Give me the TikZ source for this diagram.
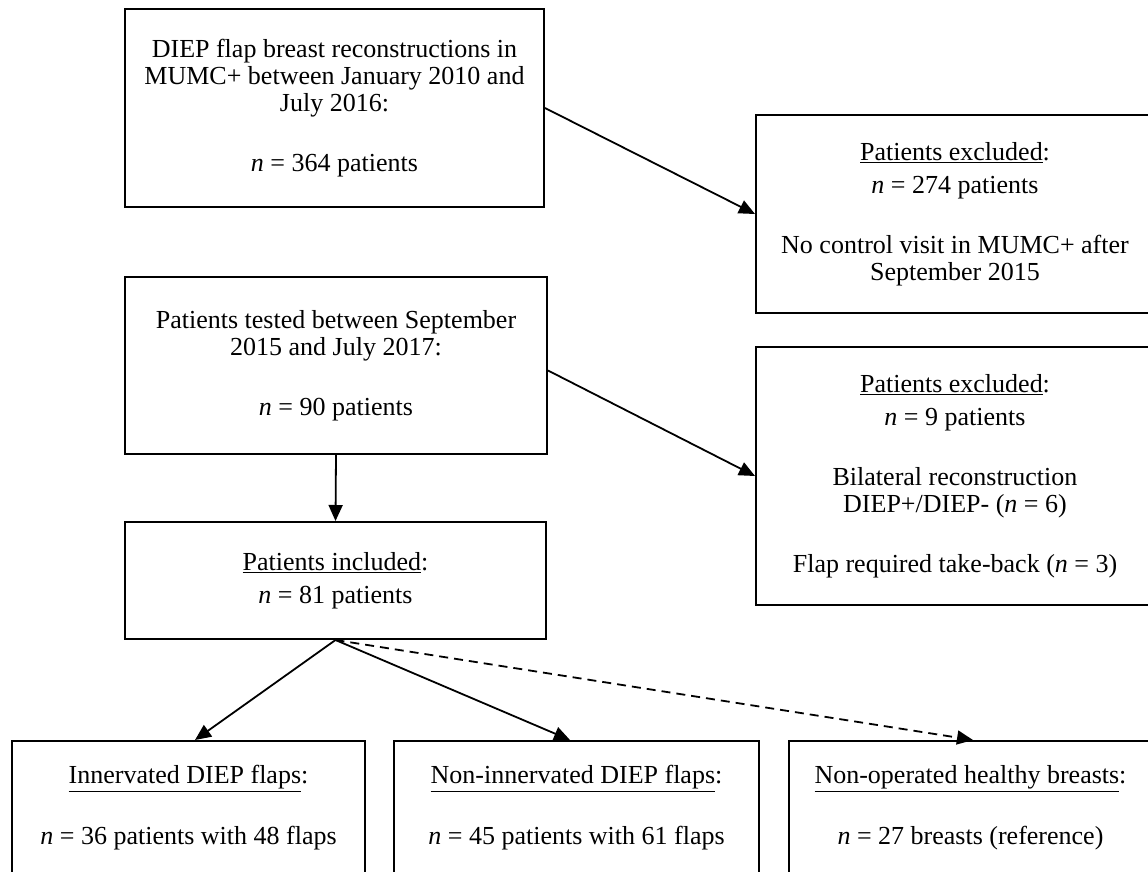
\documentclass[tikz,border=0pt]{standalone}
\usepackage{fontspec}
\setmainfont{Liberation Serif}
\usetikzlibrary{arrows.meta}
\begin{document}
\begin{tikzpicture}[x=1pt,y=-1pt,
  box/.style={draw, line width=2pt, align=center, inner sep=0pt,
    font=\fontsize{26}{27}\selectfont},
  conn/.style={line width=1.8pt, -{Triangle[length=16pt,width=14pt]}},
  dconn/.style={conn, dash pattern=on 9pt off 6pt}]
\clip (0,0) rectangle (1148,871);
\fill[white] (0,0) rectangle (1148,871);
\node[box, minimum width=419pt, minimum height=198pt] (b1) at (334.5,108)
  {DIEP flap breast reconstructions in\\MUMC+ between January 2010 and\\July 2016:\\[33pt]\textit{n} = 364 patients};
\node[box, minimum width=398pt, minimum height=198pt] (x1) at (955,214)
  {\underline{Patients excluded}:\\[6pt]\textit{n} = 274 patients\\[33pt]No control visit in MUMC+ after\\September 2015};
\node[box, minimum width=422pt, minimum height=177pt] (b2) at (336,365.5)
  {Patients tested between September\\2015 and July 2017:\\[33pt]\textit{n} = 90 patients};
\node[box, minimum width=398pt, minimum height=258pt] (x2) at (955,476)
  {\underline{Patients excluded}:\\[6pt]\textit{n} = 9 patients\\[33pt]Bilateral reconstruction\\DIEP+/DIEP- (\textit{n} = 6)\\[33pt]Flap required take-back (\textit{n} = 3)};
\node[box, minimum width=421pt, minimum height=117pt] (b3) at (335.5,580.5)
  {\underline{Patients included}:\\[6pt]\textit{n} = 81 patients};
\node[box, minimum width=353pt, minimum height=134pt] (c1) at (188.5,808)
  {\underline{Innervated DIEP flaps}:\\[34pt]\textit{n} = 36 patients with 48 flaps};
\node[box, minimum width=365pt, minimum height=134pt] (c2) at (576.5,808)
  {\underline{Non-innervated DIEP flaps}:\\[34pt]\textit{n} = 45 patients with 61 flaps};
\node[box, minimum width=363pt, minimum height=134pt] (c3) at (970.5,808)
  {\underline{Non-operated healthy breasts}:\\[34pt]\textit{n} = 27 breasts (reference)};
\draw[conn] (b1.east) -- (x1.west);
\draw[conn] ([yshift=-5pt]b2.east) -- (x2.west);
\draw[conn] (b2.south) -- (b3.north);
\draw[conn] (b3.south) -- ([xshift=6.5pt]c1.north);
\draw[conn] (b3.south) -- ([xshift=-6.5pt]c2.north);
\draw[dconn] (b3.south) -- ([xshift=2.5pt]c3.north);
\end{tikzpicture}
\end{document}
